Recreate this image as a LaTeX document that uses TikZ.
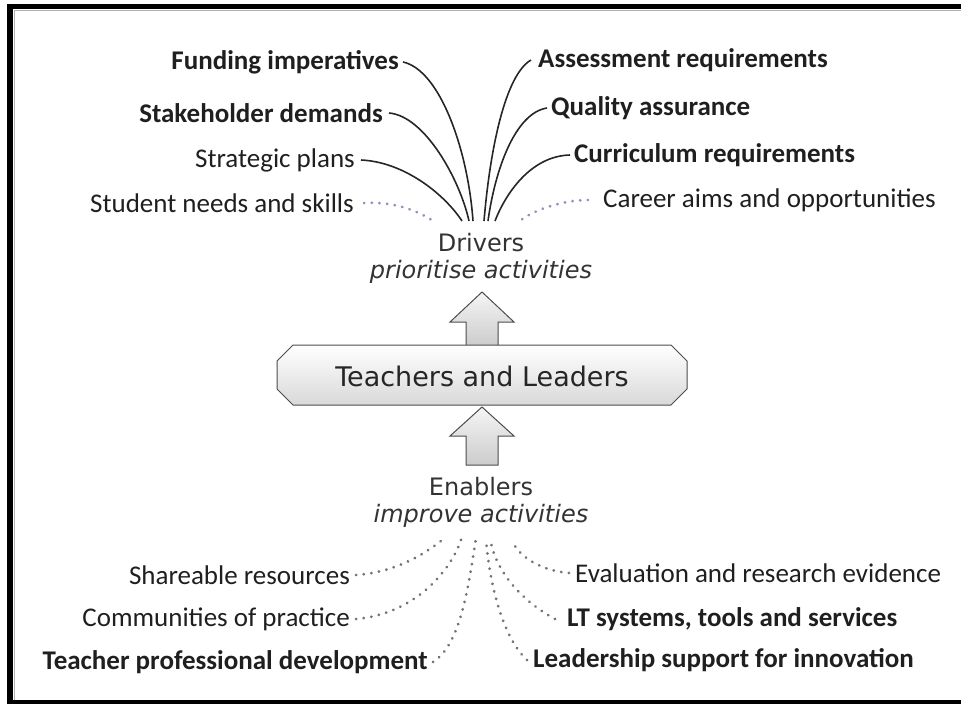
\documentclass[tikz,border=0pt]{standalone}
\usepackage{fontspec}
\setmainfont{Carlito}
\newfontfamily\verd{DejaVu Sans}

\begin{document}
\begin{tikzpicture}[x=1pt, y=-1pt,
	lbl/.style={font=\fontsize{27}{31}\selectfont, text=black!88, inner sep=0pt},
	mid/.style={font=\verd\fontsize{24}{28}\selectfont, text=black!80, inner sep=0pt},
	line/.style={line width=1.6pt, black!85},
	dots/.style={line width=2.9pt, line cap=round, dash pattern=on 0.2pt off 7.5pt, black!55},
	bluedots/.style={dots, color=blue!25!gray!70},
	grey/.style={draw=black!70, line width=1pt, top color=gray!8, bottom color=gray!40}]
			
			\useasboundingbox (0,0) rectangle (961,704);
			
			% frame
			\draw[line width=5pt] (9,704) -- (9,6.5) -- (961,6.5);
			\draw[line width=1.3pt] (12.6,704) -- (12.6,9);
			\draw[gray!60, line width=0.8pt] (14,704) -- (14,10) -- (961,10);
			\draw[line width=4pt] (9,702) -- (961,702);
			
			% drivers
			\node[lbl, anchor=east] (fund) at (399,62) {\textbf{Funding imperatives}};
			\node[lbl, anchor=east] (stake) at (383,113) {\textbf{Stakeholder demands}};
			\node[lbl, anchor=east] (strat) at (355,160) {Strategic plans};
			\node[lbl, anchor=east] (stud) at (354,203) {Student needs and skills};
			\node[lbl, anchor=west] (assess) at (538,60) {\textbf{Assessment requirements}};
			\node[lbl, anchor=west] (qual) at (551,108) {\textbf{Quality assurance}};
			\node[lbl, anchor=west] (curr) at (574,155) {\textbf{Curriculum requirements}};
			\node[lbl, anchor=west] (career) at (603,200) {Career aims and opportunities};
			
			\coordinate (f1) at (473,221);
			\coordinate (f2) at (469,221);
			\coordinate (f3) at (462,221);
			\coordinate (f4) at (433,221);
			\coordinate (f5) at (484,221);
			\coordinate (f6) at (488,221);
			\coordinate (f7) at (495,221);
			\coordinate (f8) at (520,221);
			
			\draw[line] ([xshift=4pt]fund.east) .. controls (440,70) and (468,150) .. (f1);
			\draw[line] ([xshift=6pt]stake.east) .. controls (425,116) and (460,180) .. (f2);
			\draw[line] ([xshift=6pt]strat.east) .. controls (405,162) and (445,195) .. (f3);
			\draw[bluedots] ([xshift=10pt]stud.east) .. controls (395,201) and (420,212) .. (f4);
			\draw[line] ([xshift=-7pt]assess.west) .. controls (505,75) and (490,150) .. (f5);
			\draw[line] ([xshift=-4pt]qual.west) .. controls (515,113) and (495,170) .. (f6);
			\draw[line] ([xshift=-4pt]curr.west) .. controls (530,156) and (505,195) .. (f7);
			\draw[bluedots] ([xshift=-15pt]career.west) .. controls (560,200) and (530,212) .. (f8);
			
			\node[mid] (drv) at (481,243) {Drivers};
			\node[mid] (prio) at (481,272) {\itshape prioritise activities};
			
			% arrows and box
			\draw[grey] (466,346) -- (466,322) -- (450,322) -- (482,292) -- (514,322) -- (498,322) -- (498,346) -- cycle;
			\draw[grey] (466,465) -- (466,436) -- (450,436) -- (482,407) -- (514,436) -- (498,436) -- (498,465) -- cycle;
			\draw[grey, top color=white, bottom color=gray!30] (293,345) -- (671,345) -- (687,361) -- (687,389) -- (671,405)
				-- (293,405) -- (277,389) -- (277,361) -- cycle;
			\node[mid, font=\verd\fontsize{27}{31}\selectfont, text=black!85] (tl) at (482,376) {Teachers and Leaders};
			
			% enablers
			\node[mid] (enab) at (481,487) {Enablers};
			\node[mid] (impr) at (481,516) {\itshape improve activities};
			
			\node[lbl, anchor=east] (share) at (350,575) {Shareable resources};
			\node[lbl, anchor=east] (comm) at (350,619) {Communities of practice};
			\node[lbl, anchor=east] (teach) at (428,662) {\textbf{Teacher professional development}};
			\node[lbl, anchor=west] (eval) at (575,573) {Evaluation and research evidence};
			\node[lbl, anchor=west] (lts) at (567,619) {\textbf{LT systems, tools and services}};
			\node[lbl, anchor=west] (lead) at (533,660) {\textbf{Leadership support for innovation}};
			
			\coordinate (e1) at (446,537);
			\coordinate (e2) at (462,537);
			\coordinate (e3) at (476,538);
			\coordinate (e4) at (512,540);
			\coordinate (e5) at (490,538);
			\coordinate (e6) at (486,539);
			
			\draw[dots] ([xshift=6pt]share.east) .. controls (400,572) and (430,550) .. (e1);
			\draw[dots] ([xshift=6pt]comm.east) .. controls (415,614) and (452,570) .. (e2);
			\draw[dots] ([xshift=5pt]teach.east) .. controls (460,645) and (468,590) .. (e3);
			\draw[dots] ([xshift=-6pt]eval.west) .. controls (535,570) and (516,552) .. (e4);
			\draw[dots] ([xshift=-12pt]lts.west) .. controls (520,600) and (495,570) .. (e5);
			\draw[dots] ([xshift=-6pt]lead.west) .. controls (505,640) and (490,590) .. (e6);
			
			\end{tikzpicture}
\end{document}
